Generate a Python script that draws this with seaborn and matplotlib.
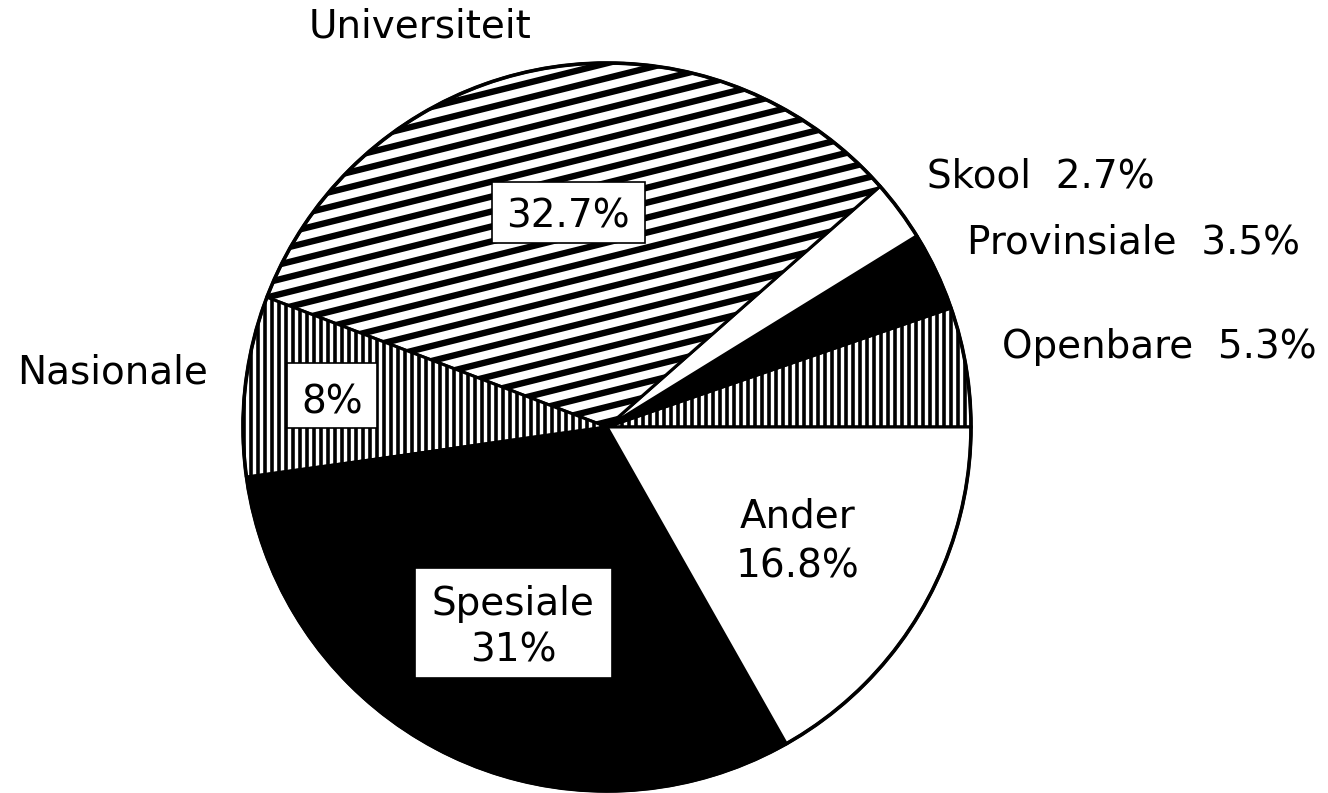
import numpy as np
import matplotlib
matplotlib.use("Agg")
import matplotlib.pyplot as plt
from matplotlib.patches import Rectangle
import seaborn as sns

sns.set_theme(style="white")
plt.rcParams['font.family'] = ['DejaVu Sans']

labels = ["Openbare", "Provinsiale", "Skool", "Universiteit", "Nasionale", "Spesiale", "Ander"]
values = [5.3, 3.5, 2.7, 32.7, 8.0, 31.0, 16.8]
pct_text = ["5.3%", "3.5%", "2.7%", "32.7%", "8%", "31%", "16.8%"]
fills = ["vhatch", "black", "white", "dhatch", "vhatch", "black", "white"]

W, H = 1328, 793
fig = plt.figure(figsize=(W / 100, H / 100), dpi=100)
ax = fig.add_axes([0, 0, 1, 1])

cx, cy, R = 607, H - 427, 364

wedges, _ = ax.pie(values, startangle=0, counterclock=True, center=(cx, cy), radius=R,
                   colors=["white" if f != "black" else "black" for f in fills],
                   wedgeprops=dict(edgecolor="black", linewidth=2.2))
ax.set_xlim(0, W)
ax.set_ylim(0, H)
ax.set_aspect("auto")
ax.axis("off")


def hatch(wedge, angle, spacing, lw):
    a = np.deg2rad(angle)
    d = np.array([np.cos(a), np.sin(a)])
    n = np.array([-np.sin(a), np.cos(a)])
    L = 2 * R + 50
    for k in np.arange(-L, L, spacing):
        p0 = np.array([cx, cy]) + n * k - d * L
        p1 = np.array([cx, cy]) + n * k + d * L
        ln, = ax.plot([p0[0], p1[0]], [p0[1], p1[1]], color="black", lw=lw,
                      solid_capstyle="butt", zorder=wedge.get_zorder() + 0.1)
        ln.set_clip_path(wedge)


for w, f in zip(wedges, fills):
    if f == "vhatch":
        hatch(w, 90, 7.0, 2.6)
    elif f == "dhatch":
        hatch(w, 14, 14.5, 4.6)

circ = plt.Circle((cx, cy), R, fill=False, ec="black", lw=2.6, zorder=5)
ax.add_patch(circ)

fs = 28


def T(x, y, s, ha="left"):
    ax.text(x, H - y, s, fontsize=fs, color="black", zorder=10, ha=ha, va="baseline")


def box(x0, y0, x1, y1):
    ax.add_patch(Rectangle((x0, H - y1), x1 - x0, y1 - y0, fc="white", ec="black",
                           lw=1.2, zorder=9))


T(420, 37, labels[3], ha="center")
box(492, 182, 645, 243)
T(568, 228, pct_text[3], ha="center")
T(927, 188, f"{labels[2]}  {pct_text[2]}")
T(967, 253, f"{labels[1]}  {pct_text[1]}")
T(1002, 358, f"{labels[0]}  {pct_text[0]}")
T(17, 383, labels[4])
box(287, 363, 377, 428)
T(332, 413, pct_text[4], ha="center")
box(415, 568, 612, 678)
T(513, 615, labels[5], ha="center")
T(513, 662, pct_text[5], ha="center")
T(798, 528, labels[6], ha="center")
T(798, 578, pct_text[6], ha="center")

fig.savefig("out.png", dpi=100)
